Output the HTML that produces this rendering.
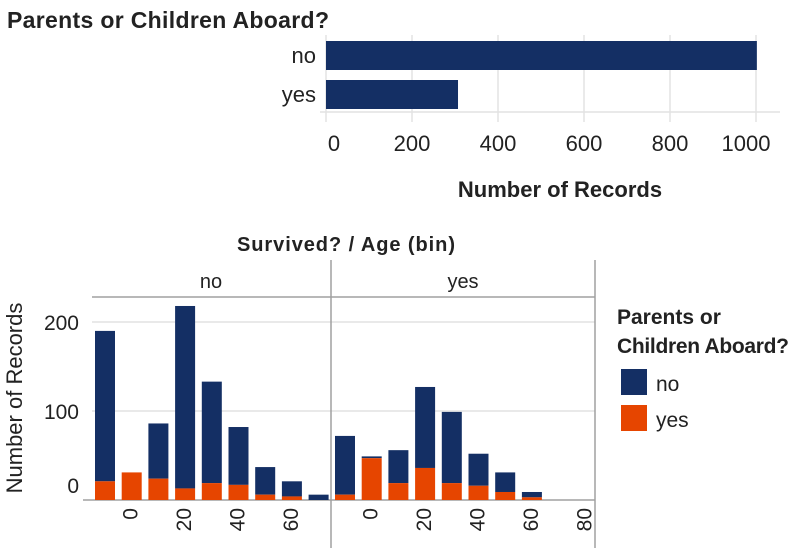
<!DOCTYPE html>
<html><head><meta charset="utf-8"><style>
body{margin:0;background:#fff;width:796px;height:555px;overflow:hidden}
svg{font-family:"Liberation Sans",sans-serif}
</style></head><body>
<svg id="c" width="796" height="555" xmlns="http://www.w3.org/2000/svg">
<text x="7" y="28" font-size="23" font-weight="bold" fill="#222" textLength="322">Parents or Children Aboard?</text>
<g id="top"></g>
<text x="560" y="197" font-size="22" font-weight="bold" fill="#222" text-anchor="middle">Number of Records</text>
<text x="237" y="251" font-size="20" font-weight="bold" fill="#222" textLength="218" lengthAdjust="spacing">Survived? / Age (bin)</text>
<g id="bot"></g>
<text transform="translate(22,398) rotate(-90)" font-size="22" fill="#222" text-anchor="middle">Number of Records</text>
<g>
<text x="617" y="324" font-size="21" font-weight="bold" fill="#222">Parents or</text>
<text x="617" y="353" font-size="21" font-weight="bold" fill="#222" textLength="172">Children Aboard?</text>
<rect x="621" y="369" width="26" height="26" fill="#142f64"/>
<text x="656" y="391" font-size="21" fill="#222">no</text>
<rect x="621" y="405" width="26" height="26" fill="#e64500"/>
<text x="656" y="427" font-size="21" fill="#222">yes</text>
</g>
</svg>
<script>
const topCats=["no","yes"];
const topVals=[1002,307];
const topTicks=[0,200,400,600,800,1000];
const panels=["no","yes"];
const noTotals=[190,0,86,218,133,82,37,21,6];
const noYes=[21,31,24,13,19,17,6,4,0];
const yesTotals=[72,49,56,127,99,52,31,9];
const yesYes=[6,47,19,36,19,16,9,3];
const yTicks=[0,100,200];
const ageTicksNo=["0","20","40","60"];
const ageTicksYes=["0","20","40","60","80"];
const NS="http://www.w3.org/2000/svg";
function mk(p,t,a){const e=document.createElementNS(NS,t);for(const k in a)e.setAttribute(k,a[k]);p.appendChild(e);return e;}
const NAVY="#142f64",ORG="#e64500";
// top chart
const tg=document.getElementById('top');
const tx=v=>326+v*0.43;
topTicks.forEach((t,i)=>{
 const l=mk(tg,'line',{x1:tx(t),x2:tx(t),y1:35,y2:122,stroke:'#e2e2e2','stroke-width':1.5});
 
 let cx=tx(t);if(i===0)cx+=8;if(i===topTicks.length-1)cx-=10;
 const s=mk(tg,'text',{x:cx,y:151,'font-size':22,fill:'#222','text-anchor':'middle'});s.textContent=t;
 
});
const ax=mk(tg,'line',{x1:320,x2:780,y1:112,y2:112,stroke:'#e2e2e2','stroke-width':1.5});

topCats.forEach((c,i)=>{
 const y=41+i*39;
 const r=mk(tg,'rect',{x:tx(0),y:y,width:tx(topVals[i])-tx(0),height:29,fill:NAVY});
 
 const s=mk(tg,'text',{x:316,y:y+22,'font-size':22,fill:'#222','text-anchor':'end'});s.textContent=c;
 
});
// bottom chart
const bg=document.getElementById('bot');
const yv=v=>500-v*0.89;
yTicks.forEach(t=>{
 if(t>0){const l=mk(bg,'line',{x1:92,x2:595,y1:yv(t),y2:yv(t),stroke:'#e2e2e2','stroke-width':1.5});
 }
 const s=mk(bg,'text',{x:79,y:yv(t)+8-(t===0?15:0),'font-size':21,fill:'#222','text-anchor':'end'});s.textContent=t;
 
});
[[92,595,297,297],[83,595,500,500],[331,331,260,548],[595,595,260,548]].forEach(a=>{
 const l=mk(bg,'line',{x1:a[0],x2:a[1],y1:a[2],y2:a[3],stroke:'#a0a0a0','stroke-width':1.5});
 
});
const pcfg=[{x0:105,tot:noTotals,yes:noYes,ticks:ageTicksNo,hx:211},{x0:345,tot:yesTotals,yes:yesYes,ticks:ageTicksYes,hx:463}];
pcfg.forEach((p,pi)=>{
 const h=mk(bg,'text',{x:p.hx,y:288,'font-size':20,fill:'#222','text-anchor':'middle'});h.textContent=panels[pi];
 
 p.tot.forEach((v,i)=>{
  const cx=p.x0+i*26.7;
  const nv=v-p.yes[i];
  if(nv>0){const r=mk(bg,'rect',{x:cx-10,y:yv(v),width:20,height:yv(p.yes[i])-yv(v),fill:NAVY});
   }
  if(p.yes[i]>0){const r=mk(bg,'rect',{x:cx-10,y:yv(p.yes[i]),width:20,height:500-yv(p.yes[i]),fill:ORG});
   }
 });
 p.ticks.forEach((t,j)=>{
  const cx=p.x0+(1+2*j)*26.7-1;
  const s=mk(bg,'text',{transform:`translate(${cx+7},508) rotate(-90)`,'font-size':21,fill:'#222','text-anchor':'end'});s.textContent=t;
  
 });
});
</script>
</body></html>
